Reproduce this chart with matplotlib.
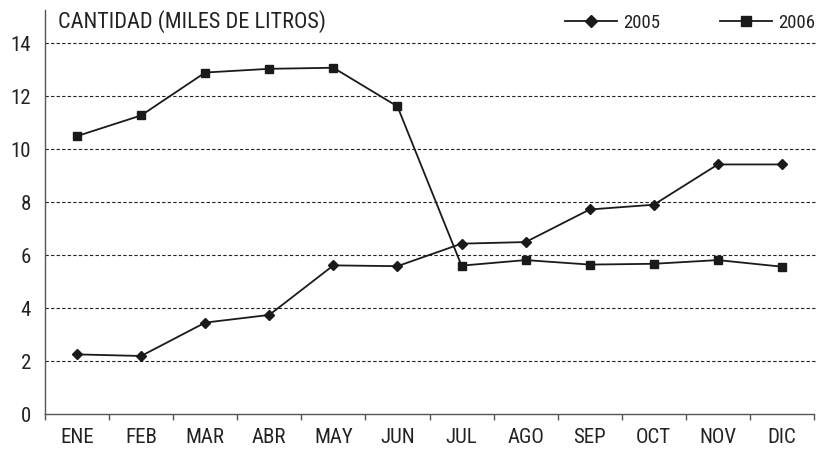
import matplotlib
matplotlib.use("Agg")
import matplotlib.pyplot as plt
import numpy as np

plt.rcParams['font.family'] = ['Liberation Sans Narrow', 'Roboto Condensed', 'Roboto', 'DejaVu Sans']

months = ["ENE", "FEB", "MAR", "ABR", "MAY", "JUN", "JUL", "AGO", "SEP", "OCT", "NOV", "DIC"]
values_2005 = [2.25, 2.19, 3.45, 3.74, 5.61, 5.58, 6.43, 6.49, 7.72, 7.90, 9.42, 9.42]
values_2006 = [10.49, 11.27, 12.89, 13.03, 13.07, 11.61, 5.60, 5.81, 5.64, 5.67, 5.81, 5.56]
yticks = [0, 2, 4, 6, 8, 10, 12, 14]
title = "CANTIDAD (MILES DE LITROS)"

fig = plt.figure(figsize=(8.24, 4.54), dpi=100)
ax = fig.add_axes([45/824, 40/454, (814-45)/824, (414-10)/454])

x = np.arange(len(months))
line_col = "#1a1a1a"
ax.plot(x, values_2005, color=line_col, lw=1.3, marker='D', markersize=5.5,
        markerfacecolor=line_col, markeredgecolor=line_col, label="2005")
ax.plot(x, values_2006, color=line_col, lw=1.3, marker='s', markersize=5.5,
        markerfacecolor=line_col, markeredgecolor=line_col, label="2006")

ax.set_xlim(-0.5, len(months) - 0.5)
ax.set_ylim(0, 15.25)

for y in yticks[1:]:
    ax.axhline(y, color="#222222", lw=0.8, ls=(0, (3, 2)), zorder=0, xmax=1.003, clip_on=False)

ax.set_yticks(yticks)
ax.set_yticklabels([str(v) for v in yticks])
ax.set_xticks(x)
ax.set_xticklabels(months)
ax.set_xticks(np.arange(-0.5, len(months)), minor=True)
ax.tick_params(axis='x', which='major', length=0, pad=10, labelsize=15, colors="#222222")
ax.tick_params(axis='x', which='minor', length=4, width=1, direction='out', color="#555555")
ax.tick_params(axis='y', length=0, pad=10, labelsize=15, colors="#222222")

for s in ['top', 'right']:
    ax.spines[s].set_visible(False)
for s in ['left', 'bottom']:
    ax.spines[s].set_color("#555555")
    ax.spines[s].set_linewidth(1.0)

fig.text(58/824, 1 - 22/454, title, fontsize=16, color="#222222", ha='left', va='center')

leg = ax.legend(loc='center right', bbox_to_anchor=(1.006, (414 - 23) / 404), ncol=2, frameon=False,
                fontsize=13.5, handlelength=2.8, columnspacing=3.2, handletextpad=0.3,
                borderaxespad=0.0, borderpad=0.2, markerscale=1.2)
for t in leg.get_texts():
    t.set_color("#222222")

fig.savefig("out.png", dpi=100)
